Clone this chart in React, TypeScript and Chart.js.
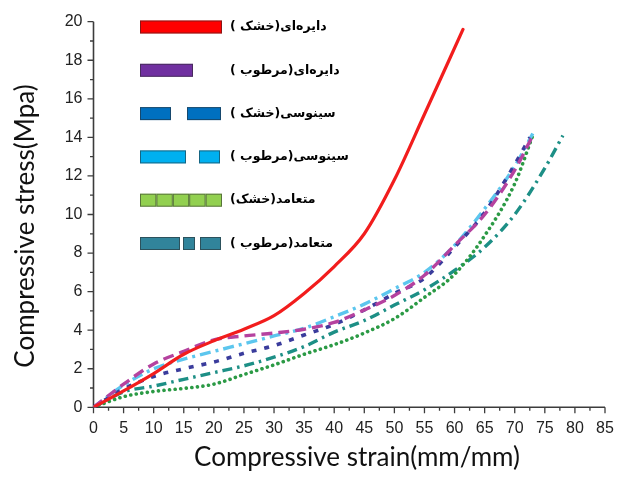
import React, { useEffect, useRef } from 'react';
import { Chart, registerables } from 'chart.js';

Chart.register(...registerables);

// ---------- data ----------
const xTitle = 'Compressive strain(mm/mm)';
const yTitle = 'Compressive stress(Mpa)';

const seriesLabels = [
  'دایره‌ای(خشک )',
  'دایره‌ای(مرطوب )',
  'سینوسی(خشک )',
  'سینوسی(مرطوب )',
  'متعامد(خشک)',
  'متعامد(مرطوب )',
];

const circularDryStrain = [0, 5, 10, 15, 20, 25, 30, 35, 40, 45, 50, 55, 61.4];
const circularDryStress = [0, 0.85, 1.75, 2.75, 3.45, 4.05, 4.75, 5.9, 7.3, 9.0, 11.8, 15.2, 19.6];

const circularWetStrain = [0, 5, 10, 15, 20, 25, 30, 35, 40, 45, 50, 55, 60, 65, 70, 73];
const circularWetStress = [0, 1.2, 2.25, 2.9, 3.5, 3.7, 3.85, 4.05, 4.4, 5.05, 5.8, 6.85, 8.4, 10.0, 12.3, 14.1];

const sineDryStrain = [0, 5, 10, 15, 20, 25, 30, 35, 40, 45, 50, 55, 60, 65, 70, 72.5];
const sineDryStress = [0, 0.95, 1.6, 2.0, 2.35, 2.8, 3.2, 3.75, 4.3, 5.05, 5.9, 6.7, 8.3, 10.1, 12.6, 14.0];

const sineWetStrain = [0, 5, 10, 15, 20, 25, 30, 35, 40, 45, 50, 55, 60, 65, 70, 73];
const sineWetStress = [0, 1.15, 2.0, 2.5, 2.9, 3.3, 3.7, 4.1, 4.7, 5.35, 6.15, 7.0, 8.4, 10.3, 12.5, 14.2];

const orthoDryStrain = [0, 5, 10, 15, 20, 25, 30, 35, 40, 45, 50, 55, 60, 65, 70, 73];
const orthoDryStress = [0, 0.55, 0.82, 0.98, 1.2, 1.7, 2.2, 2.75, 3.25, 3.85, 4.6, 5.7, 6.9, 8.9, 11.6, 14.1];

const orthoWetStrain = [0, 5, 10, 15, 20, 25, 30, 35, 40, 45, 50, 55, 60, 65, 70, 75, 78];
const orthoWetStress = [0, 0.8, 1.1, 1.45, 1.8, 2.15, 2.6, 3.15, 3.9, 4.5, 5.3, 6.1, 7.1, 8.3, 10.0, 12.4, 14.1];

const xMin = 0, xMax = 85, xMajor = 5, xMinor = 2.5;
const yMin = 0, yMax = 20, yMajor = 2, yMinor = 1;

// ---------- styles ----------
const lineColors = ['#f21d1d', '#b5429f', '#3a3c9c', '#5cc6ee', '#2b9a45', '#1d8f86'];
const lineDashes: number[][] = [[], [11, 6], [5, 8], [11, 5, 3, 5], [0.1, 5.5], [10, 5, 2.5, 5]];
const lineCaps = ['round', 'butt', 'butt', 'butt', 'round', 'butt'];
const lineWidths = [3.2, 3.4, 3.6, 3.4, 3.6, 3.4];

const legendColors = ['#ff0000', '#7030a0', '#0070c0', '#00b0f0', '#92d050', '#31849b'];
// swatch segments in px relative to swatch start
const legendSegments: number[][][] = [
  [[0, 82]],
  [[0, 53]],
  [[0, 31], [47, 81]],
  [[0, 46], [59, 80]],
  [[0, 16.4], [16.4, 32.8], [32.8, 49.2], [49.2, 65.6], [65.6, 82]],
  [[0, 40], [43, 55], [60, 81]],
];

const tickFont = '"Liberation Sans", Arial, sans-serif';
const titleFont = 'Lato, "Open Sans", sans-serif';

function toPoints(xs: number[], ys: number[]) {
  return xs.map((x, i) => ({ x, y: ys[i] }));
}

const seriesData = [
  toPoints(circularDryStrain, circularDryStress),
  toPoints(circularWetStrain, circularWetStress),
  toPoints(sineDryStrain, sineDryStress),
  toPoints(sineWetStrain, sineWetStress),
  toPoints(orthoDryStrain, orthoDryStress),
  toPoints(orthoWetStrain, orthoWetStress),
];

const axesPlugin = {
  id: 'customAxes',
  beforeDatasetsDraw(chart: any) {
    const { ctx, scales } = chart;
    const xs = scales.x, ys = scales.y;
    const x0 = xs.getPixelForValue(xMin), x1 = xs.getPixelForValue(xMax);
    const y0 = ys.getPixelForValue(yMin), y1 = ys.getPixelForValue(yMax);
    ctx.save();
    ctx.strokeStyle = '#3c3c3c';
    ctx.lineWidth = 1.6;
    ctx.beginPath();
    ctx.moveTo(x0, y1);
    ctx.lineTo(x0, y0);
    ctx.lineTo(x1, y0);
    ctx.stroke();
    ctx.lineWidth = 1.3;
    ctx.beginPath();
    for (let v = xMin; v <= xMax + 1e-9; v += xMinor) {
      const p = xs.getPixelForValue(v);
      const major = Math.abs(v / xMajor - Math.round(v / xMajor)) < 1e-6;
      ctx.moveTo(p, y0);
      ctx.lineTo(p, y0 + (major ? 6 : 3.5));
    }
    for (let v = yMin; v <= yMax + 1e-9; v += yMinor) {
      const p = ys.getPixelForValue(v);
      const major = Math.abs(v / yMajor - Math.round(v / yMajor)) < 1e-6;
      ctx.moveTo(x0, p);
      ctx.lineTo(x0 - (major ? 6 : 3.5), p);
    }
    ctx.stroke();

    // axis titles
    ctx.fillStyle = '#111';
    ctx.font = `26px ${titleFont}`;
    ctx.textAlign = 'center';
    ctx.textBaseline = 'alphabetic';
    ctx.fillText(xTitle, 357, 466);
    ctx.save();
    ctx.translate(34, 226);
    ctx.rotate(-Math.PI / 2);
    ctx.fillText(yTitle, 0, 0);
    ctx.restore();
    ctx.restore();
  },
  afterDraw(chart: any) {
    const { ctx } = chart;
    ctx.save();
    const sx = 140;
    seriesLabels.forEach((label, i) => {
      const cy = 27 + i * 43.3;
      const h = 13;
      ctx.fillStyle = legendColors[i];
      ctx.strokeStyle = 'rgba(40,40,40,0.55)';
      ctx.lineWidth = 1;
      legendSegments[i].forEach(([a, b]) => {
        ctx.fillRect(sx + a, cy - h / 2, b - a, h);
        ctx.strokeRect(sx + a + 0.5, cy - h / 2 + 0.5, b - a - 1, h - 1);
      });
      ctx.fillStyle = '#000';
      ctx.font = 'bold 12.5px "DejaVu Sans", sans-serif';
      ctx.direction = 'rtl';
      ctx.textAlign = 'left';
      ctx.textBaseline = 'middle';
      ctx.fillText(label, 230, cy);
    });
    ctx.restore();
  },
};

export default function App() {
  const canvasRef = useRef<HTMLCanvasElement | null>(null);

  useEffect(() => {
    document.body.style.margin = '0';
    const canvas = canvasRef.current;
    if (!canvas) return;
    const chart = new Chart(canvas, {
      type: 'line',
      data: {
        datasets: seriesData.map((pts, i) => ({
          label: seriesLabels[i],
          data: pts,
          borderColor: lineColors[i],
          backgroundColor: lineColors[i],
          borderWidth: lineWidths[i],
          borderDash: lineDashes[i],
          borderCapStyle: lineCaps[i] as any,
          pointRadius: 0,
          fill: false,
          cubicInterpolationMode: 'monotone' as const,
        })),
      },
      options: {
        responsive: false,
        animation: false,
        devicePixelRatio: 1,
        layout: { padding: { top: 21.7, right: 21, left: 0, bottom: 0 } },
        plugins: { legend: { display: false }, tooltip: { enabled: false } },
        scales: {
          x: {
            type: 'linear',
            min: xMin,
            max: xMax,
            grid: { display: false, drawTicks: false },
            border: { display: false },
            ticks: {
              stepSize: xMajor,
              padding: 12,
              autoSkip: false,
              maxRotation: 0,
              color: '#222',
              font: { family: tickFont, size: 16 },
            },
            afterFit: (s: any) => { s.height = 69.7; },
          },
          y: {
            type: 'linear',
            min: yMin,
            max: yMax,
            grid: { display: false, drawTicks: false },
            border: { display: false },
            ticks: {
              stepSize: yMajor,
              padding: 11,
              color: '#222',
              font: { family: tickFont, size: 16 },
            },
            afterFit: (s: any) => { s.width = 93.5; },
          },
        },
      },
      plugins: [axesPlugin],
    });
    return () => chart.destroy();
  }, []);

  return (
    <div style={{ width: 626, height: 477, background: '#fff' }}>
      <canvas ref={canvasRef} width={626} height={477} style={{ display: 'block' }} />
    </div>
  );
}
